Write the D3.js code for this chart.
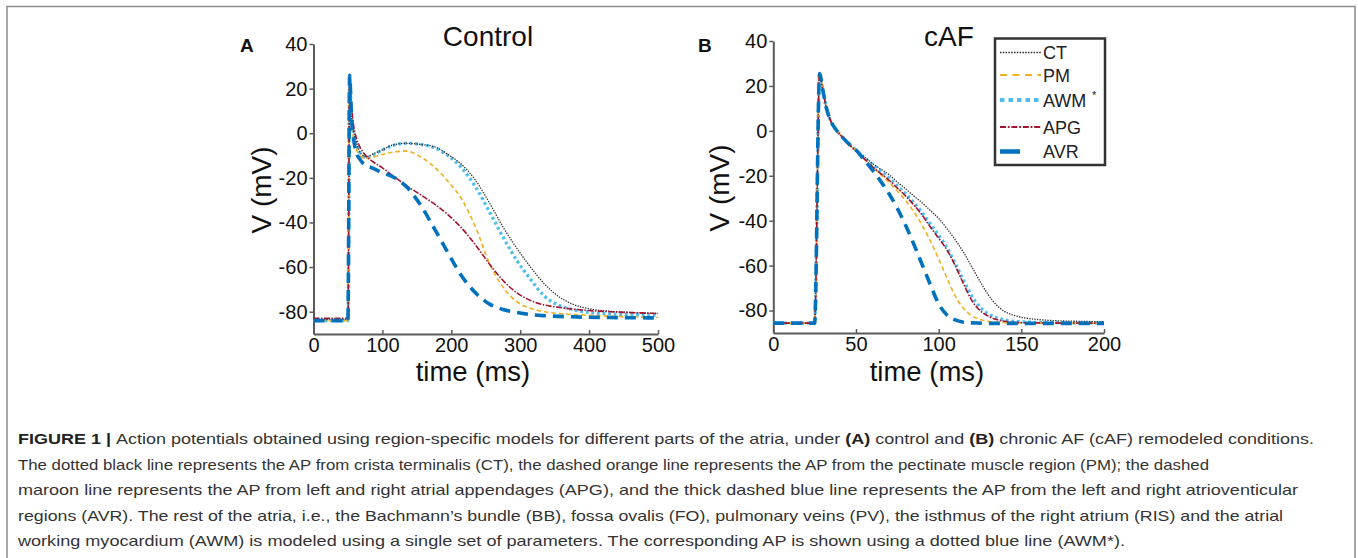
<!DOCTYPE html>
<html><head><meta charset="utf-8">
<script src="https://cdn.jsdelivr.net/npm/d3@7"></script>
<style>body{margin:0;background:#fff;} svg{display:block;}</style>
</head><body><svg id="c" width="1358" height="558"></svg>
<script>
// ---------------- DATA ----------------
const seriesNames = ["CT", "PM", "AWM", "APG", "AVR"];
const yTicks = [-80, -60, -40, -20, 0, 20, 40];
const xTicksA = [0, 100, 200, 300, 400, 500];
const xTicksB = [0, 50, 100, 150, 200];
const panelTitles = ["Control", "cAF"];
const panelLetters = ["A", "B"];

// Panel A (control), time in ms
const timeA = [0, 50, 52.5, 55, 58, 62, 67, 72, 77, 85, 100, 115, 135, 155, 175, 195, 215, 235, 255, 275, 295, 315, 335, 355, 375, 400, 430, 460, 500];
const ctA  = [-83.5,-83.5,25,8,1,-4,-8.3,-10,-10.5,-9.5,-7.5,-5.3,-4.5,-5,-6,-9.5,-14,-21,-31,-42,-51.5,-60,-67.5,-73,-76.5,-78.7,-79.8,-80.3,-80.8];
const pmA  = [-84,-84,24,6,-2,-7,-10,-11,-11.3,-10.8,-9.5,-8.5,-8,-10.5,-15,-21.5,-29.5,-42,-58,-69,-75.5,-78.5,-80,-80.8,-81.2,-81.6,-82,-82.3,-82.6];
const awmA = [-84,-84,25,8,0,-5,-8.5,-10.5,-11,-10,-7.5,-5.5,-4.5,-5,-6.5,-10,-15.5,-24,-35,-46.5,-57,-65.5,-73,-77,-79,-80.3,-81,-81.3,-81.5];
const apgA = [-83,-83,26,13,4,-2,-6,-8.5,-10.5,-12.5,-15.5,-19,-23.5,-27.5,-31.6,-36.5,-42.5,-50,-58.5,-66,-71.5,-75,-77,-78,-78.8,-79.5,-80,-80.4,-80.8];
const avrA = [-84,-84,26,8,-2,-8.5,-11.5,-13.5,-14.5,-15.5,-17.7,-19.5,-24,-32,-42.5,-53.5,-64,-71.5,-76.5,-79,-80.3,-81.3,-81.8,-82.1,-82.3,-82.5,-82.6,-82.7,-82.8];

// Panel B (cAF)
const timeB = [0, 25, 28, 30, 32, 35, 38, 42, 46, 50, 55, 60, 65, 70, 75, 80, 85, 90, 95, 100, 105, 110, 115, 120, 125, 130, 135, 140, 145, 150, 160, 170, 185, 200];
const ctB  = [-85.6,-85.6,25.5,18,10.5,4,0.5,-3,-6,-8.5,-11.5,-14.5,-17,-19.5,-22.8,-25.8,-29,-32,-35.5,-39,-43.5,-48.5,-54,-60.5,-67,-73,-77.5,-80.5,-82,-83,-84,-84.5,-84.8,-85];
const pmB  = [-85.6,-85.6,25.5,18,10.5,4,0.5,-3,-6,-8.5,-12.5,-16,-19.5,-23,-26.8,-31,-36,-42,-49,-57,-65.5,-73.5,-79,-82.3,-84,-84.8,-85.2,-85.4,-85.5,-85.5,-85.6,-85.6,-85.6,-85.6];
const awmB = [-85.6,-85.6,25.5,18,10.5,4,0.5,-3,-6,-8.5,-12,-15,-18,-21,-24.5,-28,-32,-36.5,-41.5,-46.5,-52,-59,-66.5,-73.5,-78.5,-81.5,-83.2,-84.2,-84.8,-85,-85.3,-85.4,-85.5,-85.5];
const apgB = [-85.6,-85.6,25.5,18,10.5,4,0.5,-3,-6.3,-9,-12.5,-16,-19,-22,-25.5,-29,-33,-37.5,-42.8,-47.8,-53,-60,-68,-75.5,-80,-82.5,-84,-84.8,-85.2,-85.4,-85.5,-85.6,-85.6,-85.6];
const avrB = [-85.6,-85.6,25.5,18,10.5,4,0.5,-3,-6,-8.5,-13,-17.5,-22.5,-28,-34.5,-42,-50.5,-59.5,-68.5,-77,-82,-84.2,-85.2,-85.5,-85.6,-85.7,-85.7,-85.7,-85.7,-85.7,-85.7,-85.7,-85.7,-85.7];

const captionLines = [
  [["FIGURE 1 | ", true], ["Action potentials obtained using region-specific models for different parts of the atria, under ", false], ["(A)", true], [" control and ", false], ["(B)", true], [" chronic AF (cAF) remodeled conditions.", false]],
  [["The dotted black line represents the AP from crista terminalis (CT), the dashed orange line represents the AP from the pectinate muscle region (PM); the dashed", false]],
  [["maroon line represents the AP from left and right atrial appendages (APG), and the thick dashed blue line represents the AP from the left and right atrioventicular", false]],
  [["regions (AVR). The rest of the atria, i.e., the Bachmann\u2019s bundle (BB), fossa ovalis (FO), pulmonary veins (PV), the isthmus of the right atrium (RIS) and the atrial", false]],
  [["working myocardium (AWM) is modeled using a single set of parameters. The corresponding AP is shown using a dotted blue line (AWM*).", false]]
];

// ---------------- STYLE / LAYOUT ----------------
const styles = {
  CT:  {color: "#2b2b2b", width: 1.3, dash: "1.3,1.3"},
  PM:  {color: "#EDB120", width: 1.6, dash: "4.5,3"},
  AWM: {color: "#4DBEEE", width: 3.3, dash: "2.8,2.8"},
  APG: {color: "#A2142F", width: 1.6, dash: "6,1.5,1.5,1.5"},
  AVR: {color: "#0072BD", width: 3.6, dash: "11,7"}
};
const drawOrder = ["AWM", "CT", "PM", "APG", "AVR"];
const FONT = "'Liberation Sans', Arial, Helvetica, sans-serif";
const capLeft = 18;
const capRight = [1314, 1209, 1298, 1283, 1125];
const capBase = [444, 469.5, 495, 520.5, 546];

const svg = d3.select("#c");
svg.append("rect").attr("x", 7).attr("y", 6.5).attr("width", 1348).attr("height", 620)
  .attr("fill", "none").attr("stroke", "#8a8a8a").attr("stroke-width", 1.5);

const panels = [
  {time: timeA, series: {CT: ctA, PM: pmA, AWM: awmA, APG: apgA, AVR: avrA}, xDom: [0, 500], xTicks: xTicksA,
   left: 313.5, right: 658, top: 44, bottom: 334, titleX: 488, letterX: 240, ylabX: 261, xlabX: 473},
  {time: timeB, series: {CT: ctB, PM: pmB, AWM: awmB, APG: apgB, AVR: avrB}, xDom: [0, 200], xTicks: xTicksB,
   left: 773.3, right: 1104, top: 41, bottom: 333, titleX: 949, letterX: 698, ylabX: 719, xlabX: 927}
];

panels.forEach((p, i) => {
  const x = d3.scaleLinear().domain(p.xDom).range([p.left, p.right]);
  const y = d3.scaleLinear().domain([-90, 40]).range([p.bottom, p.top]);

  const gx = svg.append("g").attr("transform", `translate(0,${p.bottom})`)
    .call(d3.axisBottom(x).tickValues(p.xTicks).tickFormat(d => String(d))
      .tickSizeInner(-4).tickSizeOuter(0).tickPadding(4));
  const gy = svg.append("g").attr("transform", `translate(${p.left},0)`)
    .call(d3.axisLeft(y).tickValues(yTicks).tickFormat(d => String(d))
      .tickSizeInner(4).tickSizeOuter(0).tickPadding(2));
  [gx, gy].forEach(g => {
    g.attr("font-family", FONT).attr("font-size", 20);
    g.select(".domain").attr("stroke", "#5a5a5a").attr("stroke-width", 2);
    g.selectAll(".tick line").attr("stroke", "#5a5a5a").attr("stroke-width", 1.5);
    g.selectAll(".tick text").attr("fill", "#111");
  });

  const line = d3.line().x(d => x(d[0])).y(d => y(d[1])).curve(d3.curveMonotoneX);
  drawOrder.forEach(name => {
    const st = styles[name];
    const pts = p.time.map((t, k) => [t, p.series[name][k]]);
    svg.append("path").attr("d", line(pts)).attr("fill", "none")
      .attr("stroke", st.color).attr("stroke-width", st.width)
      .attr("stroke-dasharray", st.dash).attr("stroke-linejoin", "round");
  });

  svg.append("text").attr("x", p.titleX).attr("y", 46).attr("text-anchor", "middle")
    .attr("font-family", FONT).attr("font-size", 28).attr("fill", "#111").text(panelTitles[i]);
  svg.append("text").attr("x", p.letterX).attr("y", 52)
    .attr("font-family", FONT).attr("font-size", 19).attr("font-weight", "bold").attr("fill", "#111").text(panelLetters[i]);
  svg.append("text").attr("transform", `translate(${p.ylabX},${(p.top + p.bottom) / 2 + 1}) rotate(-90)`)
    .attr("text-anchor", "middle").attr("dominant-baseline", "central")
    .attr("font-family", FONT).attr("font-size", 28).attr("fill", "#111").text("V (mV)");
  svg.append("text").attr("x", p.xlabX).attr("y", 381).attr("text-anchor", "middle")
    .attr("font-family", FONT).attr("font-size", 27.5).attr("fill", "#111").text("time (ms)");
});

// Legend (panel B)
const lg = svg.append("g");
lg.append("rect").attr("x", 995).attr("y", 38.5).attr("width", 110).attr("height", 126.5)
  .attr("fill", "#fff").attr("stroke", "#333").attr("stroke-width", 2.5);
const legY = [52.5, 75, 100, 127, 151.5];
const legStyles = {
  CT:  {dash: "1.5,1.3", width: 1.6, x2: 1041},
  PM:  {dash: "7,5.5", width: 1.8, x2: 1041},
  AWM: {dash: "4.5,4", width: 4, x2: 1041},
  APG: {dash: "6,1.8,1.8,1.8", width: 2, x2: 1041},
  AVR: {dash: null, width: 4.5, x2: 1020}
};
seriesNames.forEach((name, k) => {
  const ls = legStyles[name];
  lg.append("line").attr("x1", 1000).attr("x2", ls.x2).attr("y1", legY[k]).attr("y2", legY[k])
    .attr("stroke", styles[name].color).attr("stroke-width", ls.width)
    .attr("stroke-dasharray", ls.dash);
  lg.append("text").attr("x", 1043).attr("y", legY[k] + 6.5)
    .attr("font-family", FONT).attr("font-size", 18).attr("fill", "#222").text(name);
});
lg.append("text").attr("x", 1092).attr("y", 99).attr("font-family", FONT).attr("font-size", 11)
  .attr("fill", "#222").text("*");

// Caption
captionLines.forEach((segs, k) => {
  const t = svg.append("text").attr("x", capLeft).attr("y", capBase[k])
    .attr("font-family", FONT).attr("font-size", 15).attr("fill", "#333")
    .attr("textLength", capRight[k] - capLeft).attr("lengthAdjust", "spacingAndGlyphs");
  segs.forEach(s => t.append("tspan").attr("font-weight", s[1] ? "bold" : "normal")
    .attr("fill", s[1] ? "#222" : "#333").text(s[0]));
});
</script></body></html>
